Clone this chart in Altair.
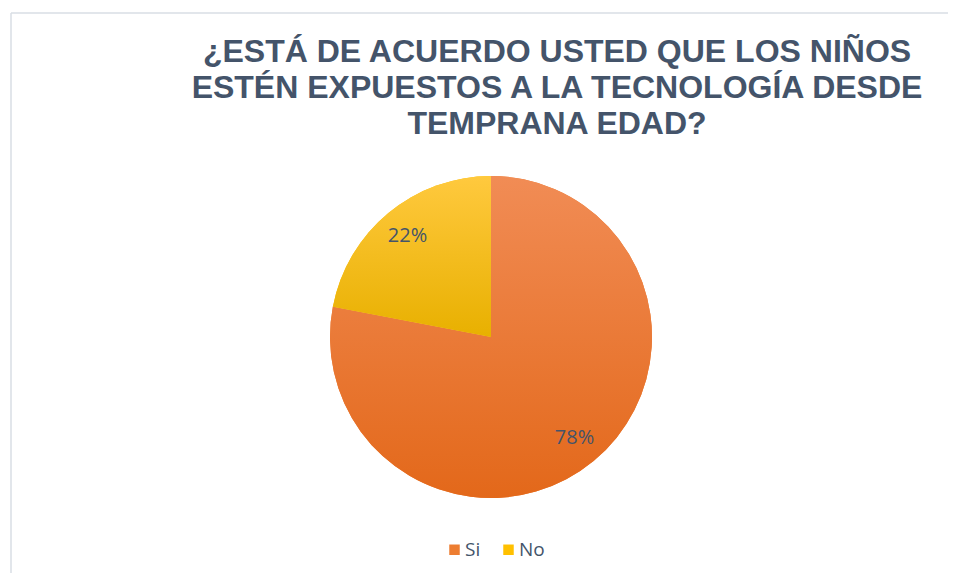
import altair as alt
import pandas as pd

categories = ["Si", "No"]
values = [78, 22]
labels = ["78%", "22%"]
base_colors = ["#ED7D31", "#FFC000"]

df = pd.DataFrame({"cat": categories, "val": values, "label": labels, "order": [0, 1]})

W, H = 940, 565
cx, cy, R = 483, 329, 161

title_lines = [
    "¿ESTÁ DE ACUERDO USTED QUE LOS NIÑOS",
    "ESTÉN EXPUESTOS A LA TECNOLOGÍA DESDE",
    "TEMPRANA EDAD?",
]

grad_si = alt.Gradient(gradient="linear", x1=0, y1=0, x2=0, y2=1,
                       stops=[alt.GradientStop(offset=0, color="#F18C55"),
                              alt.GradientStop(offset=1, color="#E3681A")])
grad_no = alt.Gradient(gradient="linear", x1=0, y1=0, x2=0, y2=1,
                       stops=[alt.GradientStop(offset=0, color="#FFC93E"),
                              alt.GradientStop(offset=1, color="#E8B000")])

base = alt.Chart(df).encode(
    theta=alt.Theta("val:Q", stack=True),
    order=alt.Order("order:Q"),
)

pie_legend = base.mark_arc(radius=R, stroke=None).encode(
    x=alt.value(cx), y=alt.value(cy),
    color=alt.Color("cat:N", sort=categories,
                    scale=alt.Scale(domain=categories, range=base_colors),
                    legend=alt.Legend(title=None, orient="none", direction="horizontal",
                                      legendX=437, legendY=532,
                                      symbolType="square", symbolSize=110,
                                      symbolStrokeWidth=0,
                                      labelFont="Open Sans", labelFontSize=19,
                                      labelColor="#44546A", columnPadding=18,
                                      labelOffset=1)),
)

pie_grad = base.mark_arc(radius=R).encode(
    x=alt.value(cx), y=alt.value(cy),
    fill=alt.condition(alt.datum.cat == "Si", alt.value(grad_si), alt.value(grad_no)),
)

text = base.mark_text(radius=131, font="Open Sans", fontSize=20, color="#44546A").encode(
    x=alt.value(cx), y=alt.value(cy),
    text="label:N",
)

frame = alt.Chart(alt.Data(values=[{}]))
top_line = frame.mark_rule(stroke="#D9DEE5", strokeWidth=1.5).encode(
    x=alt.value(3), x2=alt.value(W), y=alt.value(5))
left_line = frame.mark_rule(stroke="#D9DEE5", strokeWidth=1.5).encode(
    x=alt.value(3), y=alt.value(5), y2=alt.value(H))

chart = alt.layer(top_line, left_line, pie_legend, pie_grad, text).properties(
    width=W, height=H,
    autosize=alt.AutoSizeParams(type="none"),
    padding=0,
    title=alt.TitleParams(
        text=title_lines, orient="top", anchor="middle", frame="group",
        font="Liberation Sans", fontSize=32, fontWeight="bold", color="#44546A",
        lineHeight=36, baseline="top", dx=79, dy=137,
    ),
).configure_view(stroke=None)

chart.save("out.html", embed_options={"renderer": "svg", "actions": False})
